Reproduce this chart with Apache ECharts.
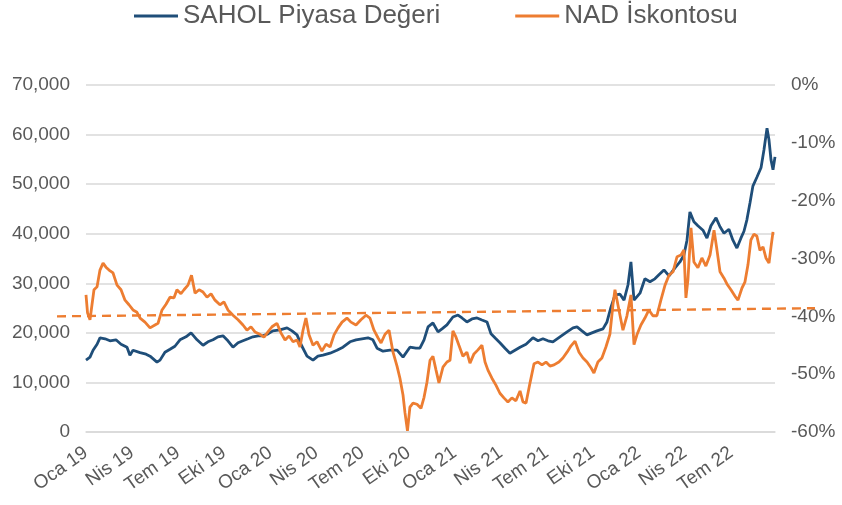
<!DOCTYPE html>
<html>
<head>
<meta charset="utf-8">
<script src="https://cdn.jsdelivr.net/npm/echarts@6/dist/echarts.min.js"></script>
<style>
html, body { margin: 0; padding: 0; background: #fff; }
#chart { width: 842px; height: 505px; }
</style>
</head>
<body>
<div id="chart"></div>
<script>
// x values are months since Oca 19 (0 = start of January 2019)
const tickLabels = ['Oca 19', 'Nis 19', 'Tem 19', 'Eki 19', 'Oca 20', 'Nis 20', 'Tem 20', 'Eki 20',
	'Oca 21', 'Nis 21', 'Tem 21', 'Eki 21', 'Oca 22', 'Nis 22', 'Tem 22']

const sahMonths = [0.00,0.26,0.46,0.72,0.91,1.24,1.56,1.95,2.28,2.67,
	2.86,3.06,3.52,3.91,4.17,4.62,4.82,5.14,5.47,5.79,
	6.12,6.51,6.84,7.23,7.62,7.94,8.27,8.59,8.92,9.24,
	9.57,9.90,10.22,10.55,10.87,11.20,11.52,11.85,12.17,12.63,
	13.09,13.41,13.74,14.06,14.39,14.78,15.10,15.43,15.89,16.34,
	16.73,17.19,17.58,17.97,18.36,18.68,18.95,19.34,19.79,20.25,
	20.64,21.09,21.48,21.74,22.01,22.27,22.59,22.92,23.18,23.50,
	23.89,24.22,24.48,24.80,25.13,25.46,25.78,26.11,26.37,26.69,
	26.95,27.28,27.60,27.93,28.26,28.65,29.10,29.43,29.75,30.08,
	30.40,30.86,31.32,31.71,31.97,32.29,32.62,32.94,33.27,33.66,
	33.92,34.18,34.44,34.77,35.03,35.29,35.48,35.68,36.07,36.39,
	36.72,37.04,37.37,37.63,37.96,38.35,38.67,38.93,39.13,39.32,
	39.58,39.84,40.17,40.43,40.69,41.02,41.28,41.54,41.86,42.12,
	42.38,42.64,42.84,43.03,43.23,43.42,43.68,43.95,44.14,44.34,
	44.47,44.60,44.73,44.86]
const sahValues = [14500,15100,16500,17700,19000,18800,18400,18600,17700,17100,
	15500,16500,16000,15700,15300,14100,14500,16100,16700,17300,
	18600,19200,20000,18600,17500,18200,18600,19200,19400,18400,
	17100,18000,18400,18800,19200,19400,19400,19800,20400,20600,
	21000,20400,19600,17300,15300,14500,15300,15500,15900,16500,
	17100,18200,18600,18800,19000,18600,16900,16300,16500,16500,
	15100,17100,16900,16900,18600,21200,22000,20200,20800,21600,
	23200,23600,23000,22200,22800,23000,22600,22200,19800,18800,
	18000,16900,15900,16500,17100,17700,19000,18400,18800,18400,
	18200,19200,20200,21000,21200,20400,19600,20000,20400,20800,
	22200,25200,27600,27800,26600,29700,34300,26600,28000,30900,
	30300,30900,31900,32700,31500,33100,34300,35700,38700,44400,
	42400,41600,40700,39100,41600,43200,41400,40100,40900,38700,
	37100,39100,40500,42800,46200,49600,51400,53300,56900,61300,
	58900,54900,52900,55500]

const nadMonths = [0.00,0.10,0.26,0.39,0.52,0.72,0.91,1.11,1.30,1.50,
	1.76,2.02,2.28,2.54,2.80,3.06,3.32,3.52,3.84,4.17,
	4.49,4.69,4.95,5.21,5.47,5.73,5.92,6.18,6.38,6.64,
	6.87,7.10,7.36,7.62,7.88,8.14,8.40,8.72,8.98,9.24,
	9.57,9.90,10.22,10.48,10.74,11.00,11.33,11.59,11.85,12.11,
	12.43,12.70,12.96,13.22,13.48,13.74,13.93,14.13,14.32,14.52,
	14.78,15.04,15.36,15.63,15.89,16.15,16.41,16.67,16.99,17.25,
	17.58,17.90,18.23,18.49,18.75,19.01,19.21,19.47,19.73,19.99,
	20.25,20.44,20.64,20.77,20.93,21.09,21.29,21.55,21.81,22.01,
	22.20,22.40,22.59,22.79,22.98,23.24,23.50,23.70,23.89,24.09,
	24.28,24.54,24.80,25.00,25.26,25.52,25.78,25.98,26.17,26.43,
	26.69,26.95,27.21,27.47,27.73,27.99,28.26,28.45,28.65,28.91,
	29.17,29.43,29.69,29.95,30.21,30.47,30.79,31.05,31.32,31.58,
	31.84,32.10,32.36,32.62,32.88,33.07,33.33,33.59,33.85,34.11,
	34.31,34.44,34.70,34.96,35.22,35.48,35.68,35.87,36.13,36.39,
	36.65,36.91,37.17,37.43,37.70,37.96,38.22,38.48,38.74,38.93,
	39.06,39.19,39.39,39.58,39.84,40.10,40.36,40.63,40.89,41.08,
	41.28,41.54,41.73,41.99,42.25,42.45,42.71,42.90,43.10,43.29,
	43.49,43.68,43.88,44.08,44.27,44.47,44.60,44.73]
const nadValues = [-36.3,-39.4,-40.6,-38.0,-35.4,-34.9,-32.0,-30.8,-31.5,-32.0,
	-32.5,-34.6,-35.4,-37.2,-38.0,-38.9,-39.3,-40.3,-41.0,-42.0,
	-41.5,-41.2,-38.9,-37.9,-36.7,-36.8,-35.4,-36.1,-35.4,-34.6,
	-32.9,-36.0,-35.4,-35.8,-36.7,-36.1,-37.2,-38.0,-37.5,-38.9,
	-39.8,-40.6,-41.5,-42.4,-41.8,-42.7,-43.1,-43.6,-42.7,-41.8,
	-41.2,-42.9,-44.1,-43.4,-44.4,-44.1,-45.3,-42.4,-40.3,-43.2,
	-45.0,-44.4,-46.0,-44.8,-45.3,-43.2,-42.0,-41.0,-40.3,-41.0,
	-41.5,-40.6,-39.8,-40.3,-42.4,-43.7,-44.6,-43.1,-42.4,-46.2,
	-48.6,-50.7,-53.6,-56.7,-59.8,-55.7,-55.0,-55.2,-55.9,-54.0,
	-51.4,-47.6,-46.9,-49.3,-51.5,-48.8,-47.9,-47.6,-42.5,-43.6,
	-45.0,-46.9,-46.2,-48.1,-46.5,-45.8,-45.0,-47.9,-49.3,-50.7,
	-51.9,-53.3,-54.1,-54.8,-54.1,-54.6,-52.9,-54.8,-55.0,-51.5,
	-48.2,-47.9,-48.4,-47.9,-48.6,-48.4,-47.9,-47.2,-46.2,-45.1,
	-44.3,-46.2,-47.2,-47.9,-48.9,-49.8,-47.9,-47.2,-45.3,-43.1,
	-38.0,-35.4,-38.9,-42.4,-39.9,-36.3,-44.9,-43.2,-41.5,-40.3,
	-38.9,-39.9,-39.9,-37.2,-34.6,-32.9,-32.3,-29.7,-29.4,-28.5,
	-36.8,-33.7,-24.7,-30.6,-31.6,-29.9,-31.3,-29.4,-25.1,-28.5,
	-32.3,-33.4,-34.4,-35.4,-36.5,-37.2,-35.1,-34.1,-31.1,-26.8,
	-25.8,-26.1,-28.6,-28.0,-29.9,-30.8,-28.0,-25.4]

// dashed NAD trend, runs a little past both ends of the plot
const trendMonths = [-1.89, 47.46]
const trendValues = [-40.0, -38.6]

const lastMonth = 44.86
const textColor = '#595959'
const font = 'Liberation Sans, Arial, sans-serif'

function pairs(xs, ys) {
	return xs.map((x, i) => [x, ys[i]])
}

const chart = echarts.init(document.getElementById('chart'), null, { renderer: 'canvas' })

const option = {
	animation: false,
	textStyle: { fontFamily: font, color: textColor },
	legend: {
		data: ['SAHOL Piyasa Değeri', 'NAD İskontosu'],
		left: 134,
		top: 3,
		padding: 0,
		icon: 'rect',
		itemWidth: 44,
		itemHeight: 3,
		itemGap: 75,
		textStyle: { fontSize: 26, color: textColor, fontFamily: font },
	},
	grid: [
		{ left: 86, right: 67, top: 85, bottom: 73 },
		// wider twin grid only for the trend line
		{ left: 57, right: 27, top: 85, bottom: 73 },
	],
	xAxis: [
		{
			type: 'value',
			gridIndex: 0,
			min: 0,
			max: lastMonth,
			interval: 3,
			axisLine: { show: true, lineStyle: { color: '#d9d9d9', width: 1.5 } },
			axisTick: { show: false },
			splitLine: { show: false },
			axisLabel: {
				rotate: 35,
				margin: 19,
				fontSize: 19,
				color: textColor,
				showMaxLabel: false,
				formatter: (v) => (v % 3 === 0 && tickLabels[v / 3]) ? tickLabels[v / 3] : '',
			},
		},
		{
			type: 'value',
			gridIndex: 1,
			min: trendMonths[0],
			max: trendMonths[1],
			show: false,
		},
	],
	yAxis: [
		{
			type: 'value',
			gridIndex: 0,
			min: 0,
			max: 70000,
			interval: 10000,
			axisLine: { show: false },
			axisTick: { show: false },
			splitLine: { lineStyle: { color: '#d9d9d9', width: 1.5 } },
			axisLabel: {
				margin: 16,
				fontSize: 19,
				color: textColor,
				formatter: (v) => v.toLocaleString('en-US'),
			},
		},
		{
			type: 'value',
			gridIndex: 0,
			min: -60,
			max: 0,
			interval: 10,
			position: 'right',
			axisLine: { show: false },
			axisTick: { show: false },
			splitLine: { show: false },
			axisLabel: {
				margin: 16,
				fontSize: 19,
				color: textColor,
				formatter: '{value}%',
			},
		},
		{
			type: 'value',
			gridIndex: 1,
			min: -60,
			max: 0,
			show: false,
		},
	],
	series: [
		{
			name: 'trend',
			type: 'line',
			xAxisIndex: 1,
			yAxisIndex: 2,
			showSymbol: false,
			silent: true,
			data: pairs(trendMonths, trendValues),
			lineStyle: { color: '#ed7d31', width: 2.4, type: [9, 6] },
		},
		{
			name: 'SAHOL Piyasa Değeri',
			type: 'line',
			xAxisIndex: 0,
			yAxisIndex: 0,
			showSymbol: false,
			data: pairs(sahMonths, sahValues),
			itemStyle: { color: '#1f4e79' },
			lineStyle: { color: '#1f4e79', width: 2.8 },
		},
		{
			name: 'NAD İskontosu',
			type: 'line',
			xAxisIndex: 0,
			yAxisIndex: 1,
			showSymbol: false,
			data: pairs(nadMonths, nadValues),
			itemStyle: { color: '#ed7d31' },
			lineStyle: { color: '#ed7d31', width: 2.8 },
		},
	],
}

chart.setOption(option)
</script>
</body>
</html>
